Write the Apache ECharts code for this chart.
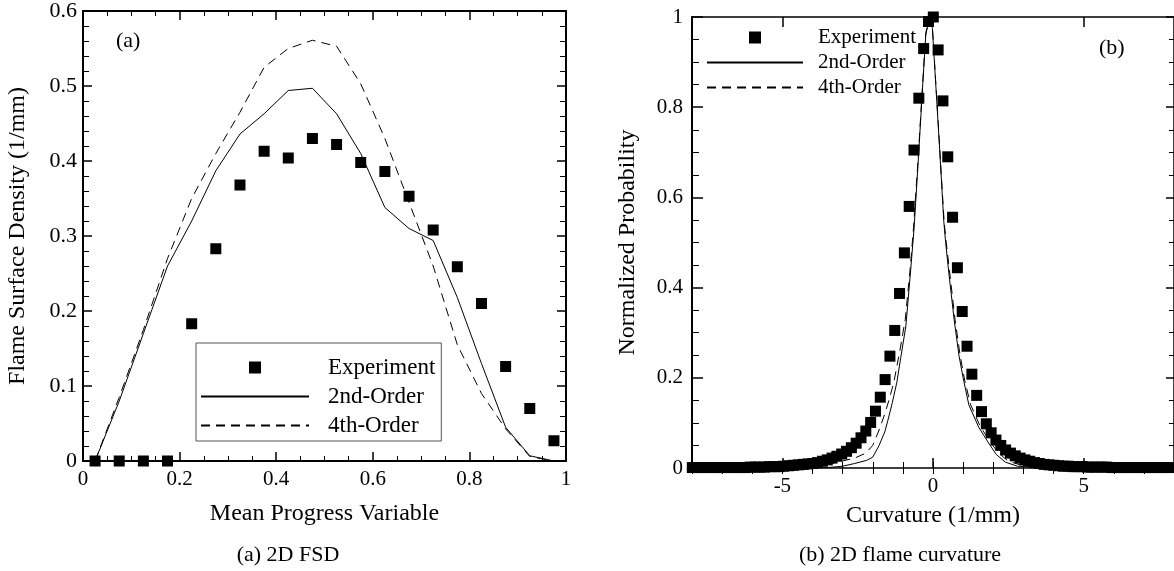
<!DOCTYPE html>
<html>
<head>
<meta charset="utf-8">
<script src="https://cdn.jsdelivr.net/npm/echarts@6/dist/echarts.min.js"></script>
<style>
  html, body { margin: 0; padding: 0; background: #fff; }
  #main { width: 1174px; height: 571px; }
</style>
</head>
<body>
<div id="main"></div>
<script>
// (a) flame surface density vs mean progress variable
const progressX = [0.025, 0.075, 0.125, 0.175, 0.225, 0.275, 0.325, 0.375, 0.425, 0.475,
  0.525, 0.575, 0.625, 0.675, 0.725, 0.775, 0.825, 0.875, 0.925, 0.975];
const fsdExperiment = [0, 0, 0, 0, 0.183, 0.283, 0.368, 0.413, 0.404, 0.430,
  0.422, 0.398, 0.386, 0.353, 0.308, 0.259, 0.210, 0.126, 0.070, 0.027];
const fsdSecondOrder = [0.0, 0.08, 0.17, 0.26, 0.32, 0.387, 0.436, 0.463, 0.494, 0.497,
  0.463, 0.41, 0.338, 0.31, 0.294, 0.218, 0.13, 0.045, 0.007, 0.0];
const fsdFourthOrder = [0.0, 0.085, 0.175, 0.27, 0.35, 0.41, 0.465, 0.525, 0.55, 0.561,
  0.553, 0.503, 0.43, 0.345, 0.26, 0.155, 0.09, 0.043, 0.006, 0.0];

// (b) normalized curvature pdf
const curvBins = [-7.99, -7.83, -7.67, -7.51, -7.35, -7.19, -7.03, -6.87, -6.71, -6.55,
  -6.39, -6.23, -6.07, -5.91, -5.75, -5.59, -5.43, -5.27, -5.11, -4.95,
  -4.79, -4.63, -4.47, -4.31, -4.15, -3.99, -3.83, -3.67, -3.51, -3.35,
  -3.19, -3.03, -2.87, -2.71, -2.55, -2.39, -2.23, -2.07, -1.91, -1.75,
  -1.59, -1.43, -1.27, -1.11, -0.95, -0.79, -0.63, -0.47, -0.31, -0.15,
  0.01, 0.17, 0.33, 0.49, 0.65, 0.81, 0.97, 1.13, 1.29, 1.45,
  1.61, 1.77, 1.93, 2.09, 2.25, 2.41, 2.57, 2.73, 2.89, 3.05,
  3.21, 3.37, 3.53, 3.69, 3.85, 4.01, 4.17, 4.33, 4.49, 4.65,
  4.81, 4.97, 5.13, 5.29, 5.45, 5.61, 5.77, 5.93, 6.09, 6.25,
  6.41, 6.57, 6.73, 6.89, 7.05, 7.21, 7.37, 7.53, 7.69, 7.85, 8.01];
const curvExperiment = [0.001, 0.001, 0.001, 0.001, 0.001, 0.001, 0.001, 0.001, 0.001, 0.001,
  0.001, 0.001, 0.002, 0.002, 0.002, 0.002, 0.003, 0.003, 0.003, 0.004,
  0.005, 0.006, 0.007, 0.008, 0.009, 0.010, 0.012, 0.015, 0.018, 0.022,
  0.026, 0.031, 0.037, 0.045, 0.055, 0.067, 0.082, 0.101, 0.126, 0.157,
  0.196, 0.248, 0.305, 0.387, 0.477, 0.58, 0.705, 0.82, 0.93, 0.99,
  1.0, 0.927, 0.814, 0.69, 0.556, 0.444, 0.347, 0.27, 0.208, 0.161,
  0.125, 0.098, 0.078, 0.062, 0.05, 0.04, 0.033, 0.027, 0.022, 0.018,
  0.015, 0.012, 0.010, 0.008, 0.007, 0.006, 0.005, 0.004, 0.004, 0.003,
  0.003, 0.003, 0.002, 0.002, 0.002, 0.002, 0.002, 0.001, 0.001, 0.001,
  0.001, 0.001, 0.001, 0.001, 0.001, 0.001, 0.001, 0.001, 0.001, 0.001, 0.001];
const curvSecondX = [-8, -4, -3.5, -3.0, -2.6, -2.2, -2.0, -1.79, -1.6, -1.5, -1.35, -1.2, -1.07,
  -0.9, -0.74, -0.63, -0.5, -0.35, -0.24, -0.13, -0.02, 0.2, 0.36, 0.42, 0.53, 0.7, 0.86,
  1.0, 1.19, 1.52, 1.85, 2.1, 2.4, 2.8, 3.5, 4, 8];
const curvSecondY = [0, 0, 0.001, 0.004, 0.01, 0.017, 0.024, 0.05, 0.08, 0.105, 0.145, 0.19, 0.245,
  0.315, 0.44, 0.53, 0.67, 0.84, 0.96, 0.995, 0.975, 0.73, 0.545, 0.5, 0.43, 0.33, 0.25,
  0.2, 0.14, 0.09, 0.055, 0.03, 0.013, 0.004, 0.001, 0, 0];
const curvFourthX = [-8, -4.5, -3.6, -3.1, -2.6, -2.23, -2.0, -1.79, -1.6, -1.46, -1.3, -1.1, -0.92,
  -0.76, -0.65, -0.5, -0.35, -0.24, -0.13, -0.02, 0.2, 0.37, 0.44, 0.56, 0.73, 0.9,
  1.05, 1.25, 1.57, 1.9, 2.15, 2.5, 3.0, 3.8, 4.5, 8];
const curvFourthY = [0, 0.001, 0.006, 0.014, 0.022, 0.033, 0.05, 0.084, 0.12, 0.151, 0.19, 0.26, 0.33,
  0.44, 0.53, 0.68, 0.845, 0.965, 0.995, 0.978, 0.735, 0.545, 0.5, 0.43, 0.33, 0.25,
  0.195, 0.14, 0.092, 0.058, 0.035, 0.015, 0.005, 0.001, 0, 0];

const serif = "'Liberation Serif', 'Times New Roman', serif";
const legendNames = ['Experiment', '2nd-Order', '4th-Order'];
const squareIcon = 'path://M0,0h10v10h-10z';
// line legend icons draw a centre symbol; hide it
const hiddenSymbol = { color: 'rgba(0,0,0,0)', borderColor: 'rgba(0,0,0,0)', borderWidth: 0, opacity: 0 };

function zip(xs, ys) {
  return xs.map((x, i) => [x, ys[i]]);
}

function legendData() {
  return [
    { name: legendNames[0], icon: squareIcon, itemStyle: { color: '#000', opacity: 1 } },
    { name: legendNames[1], itemStyle: hiddenSymbol },
    { name: legendNames[2], itemStyle: hiddenSymbol }
  ];
}

function frameAxis(extra) {
  return Object.assign({
    type: 'value',
    splitLine: { show: false },
    axisLine: { show: true, onZero: false, lineStyle: { color: '#000', width: 2 } },
    axisTick: { show: true, inside: true, length: 9, lineStyle: { color: '#000', width: 1.5 } },
    minorTick: { show: true, length: 5, lineStyle: { color: '#000', width: 1 } },
    axisLabel: { show: false, color: '#000', fontFamily: serif, fontSize: 21 },
    nameTextStyle: { color: '#000', fontFamily: serif, fontSize: 24 }
  }, extra);
}

const chart = echarts.init(document.getElementById('main'));

const option = {
  animation: false,
  backgroundColor: '#fff',
  grid: [
    { left: 83, top: 10, width: 483, height: 451 },
    { left: 692, top: 17, width: 482, height: 451 }
  ],
  xAxis: [
    frameAxis({
      gridIndex: 0, position: 'bottom', min: 0, max: 1, interval: 0.2,
      minorTick: { show: true, splitNumber: 4, length: 5, lineStyle: { color: '#000' } },
      axisLabel: { show: true, color: '#000', fontFamily: serif, fontSize: 21, margin: 8 },
      name: 'Mean Progress Variable', nameLocation: 'middle', nameGap: 41
    }),
    frameAxis({
      gridIndex: 0, position: 'top', min: 0, max: 1, interval: 0.2,
      minorTick: { show: true, splitNumber: 4, length: 5, lineStyle: { color: '#000' } }
    }),
    frameAxis({
      gridIndex: 1, position: 'bottom', min: -8, max: 8, interval: 1,
      axisLine: { show: true, onZero: false, lineStyle: { color: '#000', width: 1.5 } },
      axisTick: { show: true, inside: true, length: 10, customValues: [-5, 0, 5], lineStyle: { color: '#000', width: 1.5 } },
      minorTick: { show: false },
      axisLabel: { show: true, customValues: [-5, 0, 5], color: '#000', fontFamily: serif, fontSize: 21, margin: 8 },
      name: 'Curvature (1/mm)', nameLocation: 'middle', nameGap: 36
    }),
    frameAxis({
      gridIndex: 1, position: 'bottom', min: -8, max: 8, interval: 1,
      axisLine: { show: false },
      axisTick: { show: true, inside: true, length: 6, lineStyle: { color: '#000', width: 1 } },
      minorTick: { show: false }
    }),
    frameAxis({
      gridIndex: 1, position: 'top', min: -8, max: 8, interval: 1,
      axisLine: { show: true, onZero: false, lineStyle: { color: '#000', width: 1.5 } },
      axisTick: { show: true, inside: true, length: 10, customValues: [-5, 0, 5], lineStyle: { color: '#000', width: 1.5 } },
      minorTick: { show: false }
    }),
    frameAxis({
      gridIndex: 1, position: 'top', min: -8, max: 8, interval: 1,
      axisLine: { show: false },
      axisTick: { show: true, inside: true, length: 6, lineStyle: { color: '#000', width: 1 } },
      minorTick: { show: false }
    })
  ],
  yAxis: [
    frameAxis({
      gridIndex: 0, position: 'left', min: 0, max: 0.6, interval: 0.1,
      minorTick: { show: true, splitNumber: 5, length: 6, lineStyle: { color: '#000' } },
      axisLabel: { show: true, color: '#000', fontFamily: serif, fontSize: 22, margin: 6 },
      name: 'Flame Surface Density (1/mm)', nameLocation: 'middle', nameGap: 53
    }),
    frameAxis({
      gridIndex: 0, position: 'right', min: 0, max: 0.6, interval: 0.1,
      minorTick: { show: true, splitNumber: 5, length: 6, lineStyle: { color: '#000' } }
    }),
    frameAxis({
      gridIndex: 1, position: 'left', min: 0, max: 1, interval: 0.2,
      axisTick: { show: true, inside: true, length: 11, lineStyle: { color: '#000', width: 1.5 } },
      minorTick: { show: true, splitNumber: 4, length: 7, lineStyle: { color: '#000' } },
      axisLabel: { show: true, color: '#000', fontFamily: serif, fontSize: 21, margin: 9 },
      name: 'Normalized Probability', nameLocation: 'middle', nameGap: 52
    }),
    frameAxis({
      gridIndex: 1, position: 'right', min: 0, max: 1, interval: 0.2,
      axisLine: { show: true, onZero: false, lineStyle: { color: '#000', width: 1.5 } },
      axisTick: { show: true, inside: true, length: 8, lineStyle: { color: '#000', width: 1.5 } },
      minorTick: { show: true, splitNumber: 4, length: 5, lineStyle: { color: '#000' } }
    })
  ],
  legend: [
    {
      orient: 'vertical', left: 196, top: 343, selectedMode: false,
      itemWidth: 108, itemHeight: 12, itemGap: 6,
      padding: [13, 6, 4, 4], borderColor: '#555', borderWidth: 1,
      data: legendData(),
      textStyle: { color: '#000', fontFamily: serif, fontSize: 23, lineHeight: 23, padding: [0, 0, 0, 14] }
    },
    {
      orient: 'vertical', left: 706, top: 27, selectedMode: false,
      itemWidth: 96, itemHeight: 12, itemGap: 4, padding: 0,
      data: legendData(),
      textStyle: { color: '#000', fontFamily: serif, fontSize: 21, lineHeight: 21, padding: [0, 0, 0, 10] }
    }
  ],
  graphic: [
    { type: 'text', left: 116, top: 30, style: { text: '(a)', font: '22px ' + serif, fill: '#000' } },
    { type: 'text', left: 1099, top: 37, style: { text: '(b)', font: '22px ' + serif, fill: '#000' } },
    { type: 'text', x: 288, y: 555, style: { text: '(a) 2D FSD', font: '22px ' + serif, fill: '#000', align: 'center', verticalAlign: 'middle' } },
    { type: 'text', x: 900, y: 555, style: { text: '(b) 2D flame curvature', font: '22px ' + serif, fill: '#000', align: 'center', verticalAlign: 'middle' } }
  ],
  series: [
    {
      name: legendNames[0], type: 'scatter', xAxisIndex: 0, yAxisIndex: 0,
      symbol: 'rect', symbolSize: 11, itemStyle: { color: '#000', opacity: 1 }, z: 5,
      data: zip(progressX, fsdExperiment)
    },
    {
      name: legendNames[1], type: 'line', xAxisIndex: 0, yAxisIndex: 0,
      symbol: 'none', itemStyle: { color: '#000' }, lineStyle: { color: '#000', width: 1 },
      data: zip(progressX, fsdSecondOrder)
    },
    {
      name: legendNames[2], type: 'line', xAxisIndex: 0, yAxisIndex: 0,
      symbol: 'none', itemStyle: { color: '#000' }, lineStyle: { color: '#000', width: 1, type: [9, 6] },
      data: zip(progressX, fsdFourthOrder)
    },
    {
      name: legendNames[0], type: 'scatter', xAxisIndex: 2, yAxisIndex: 2,
      symbol: 'rect', symbolSize: 11, itemStyle: { color: '#000', opacity: 1 }, z: 5,
      data: zip(curvBins, curvExperiment)
    },
    {
      name: legendNames[1], type: 'line', xAxisIndex: 2, yAxisIndex: 2,
      symbol: 'none', itemStyle: { color: '#000' }, lineStyle: { color: '#000', width: 1 },
      data: zip(curvSecondX, curvSecondY)
    },
    {
      name: legendNames[2], type: 'line', xAxisIndex: 2, yAxisIndex: 2,
      symbol: 'none', itemStyle: { color: '#000' }, lineStyle: { color: '#000', width: 1, type: [9, 6] },
      data: zip(curvFourthX, curvFourthY)
    }
  ]
};

chart.setOption(option);
</script>
</body>
</html>
